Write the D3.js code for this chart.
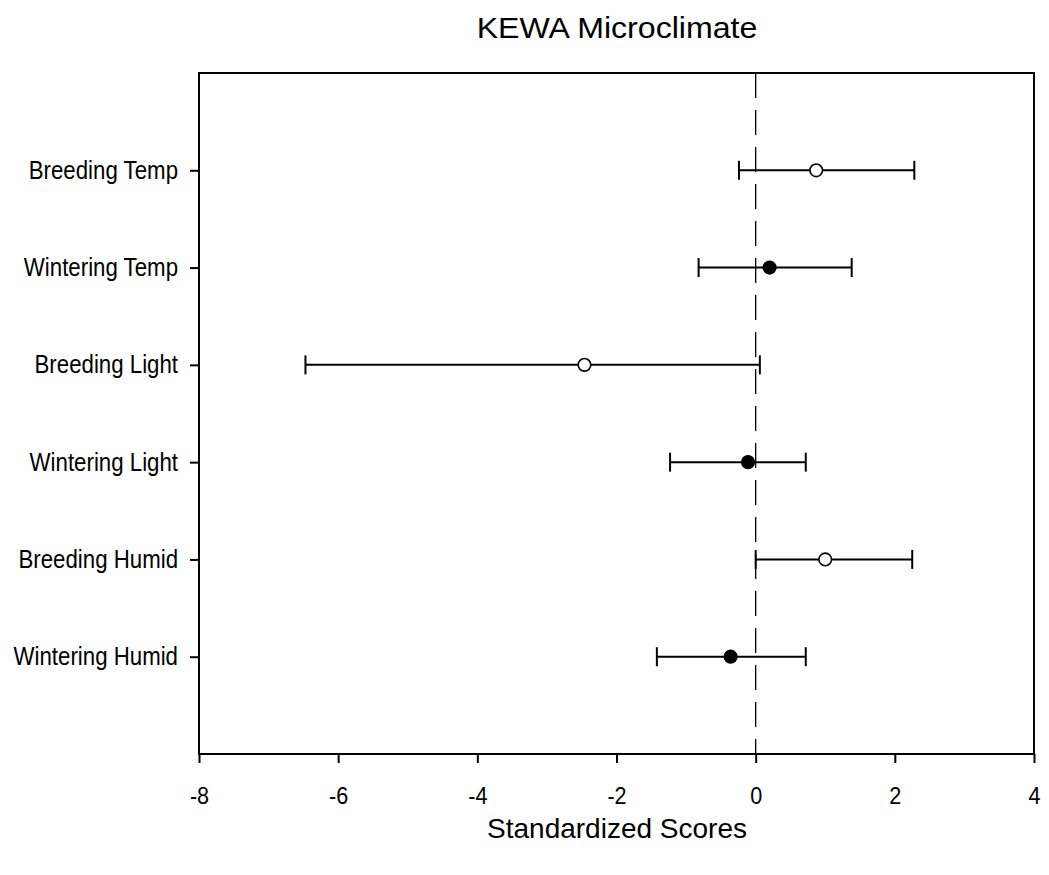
<!DOCTYPE html>
<html><head><meta charset="utf-8">
<script src="https://cdn.jsdelivr.net/npm/d3@7/dist/d3.min.js"></script>
<style>
body{margin:0;background:#fff;}
svg text{font-family:"Liberation Sans",Arial,sans-serif;fill:#000;}
</style></head>
<body><svg id="c" width="1049" height="875"></svg>
<script>
const categories = ["Breeding Temp","Wintering Temp","Breeding Light","Wintering Light","Breeding Humid","Wintering Humid"];
const means = [0.87, 0.20, -2.46, -0.11, 1.00, -0.36];
const lows  = [-0.24, -0.82, -6.47, -1.23, 0.00, -1.42];
const highs = [2.28, 1.38, 0.06, 0.72, 2.25, 0.72];
const filled = [false, true, false, true, false, true];
const xTicks = [-8,-6,-4,-2,0,2,4];

const svg = d3.select("#c");
const L=199, R=1034, T=73, B=754;
const x = d3.scaleLinear().domain([-8,4]).range([L,R]);
const y = d3.scaleLinear().domain([0,7]).range([T,B]);

function condense(sel, k){
  sel.each(function(){
    const w = this.getComputedTextLength();
    d3.select(this).attr("textLength", w*k).attr("lengthAdjust","spacingAndGlyphs");
  });
}

// frame
svg.append("rect").attr("x",L).attr("y",T).attr("width",R-L).attr("height",B-T)
  .attr("fill","none").attr("stroke","#000").attr("stroke-width",2);

// zero dashed line
svg.append("line").attr("x1",x(0)).attr("x2",x(0)).attr("y1",T).attr("y2",B)
  .attr("stroke","#000").attr("stroke-width",1.3).attr("stroke-dasharray","25,12");

// x axis
const xa = svg.append("g").attr("transform",`translate(0,${B})`)
  .call(d3.axisBottom(x).tickValues(xTicks).tickSize(9).tickPadding(24).tickFormat(d=>String(d)));
xa.select(".domain").remove();
xa.selectAll("line").attr("stroke","#000").attr("stroke-width",2);
xa.selectAll("text").attr("font-size",24).attr("fill","#000").style("font-family",null);
condense(xa.selectAll("text"), 0.9);

// y axis
const ya = svg.append("g").attr("transform",`translate(${L},0)`)
  .call(d3.axisLeft(y).tickValues(d3.range(1,7)).tickSize(9).tickPadding(12)
    .tickFormat(d=>categories[d-1]));
ya.select(".domain").remove();
ya.selectAll("line").attr("stroke","#000").attr("stroke-width",2);
ya.selectAll("text").attr("font-size",25).attr("fill","#000").style("font-family",null);
condense(ya.selectAll("text"), 0.89);

// error bars
const g = svg.append("g");
categories.forEach((c,i)=>{
  const yy = y(i+1);
  g.append("line").attr("x1",x(lows[i])).attr("x2",x(highs[i])).attr("y1",yy).attr("y2",yy)
    .attr("stroke","#000").attr("stroke-width",2);
  [lows[i],highs[i]].forEach(v=>{
    g.append("line").attr("x1",x(v)).attr("x2",x(v)).attr("y1",yy-9.5).attr("y2",yy+9.5)
      .attr("stroke","#000").attr("stroke-width",2);
  });
  g.append("circle").attr("cx",x(means[i])).attr("cy",yy).attr("r",6.3)
    .attr("fill",filled[i]?"#000":"#fff").attr("stroke","#000").attr("stroke-width",1.6);
});

// titles
const t1 = svg.append("text").attr("x",617).attr("y",38).attr("text-anchor","middle")
  .attr("font-size",30).text("KEWA Microclimate");
condense(t1, 1.07);
const t2 = svg.append("text").attr("x",617).attr("y",838).attr("text-anchor","middle")
  .attr("font-size",28).text("Standardized Scores");
condense(t2, 1.0);
</script></body></html>
